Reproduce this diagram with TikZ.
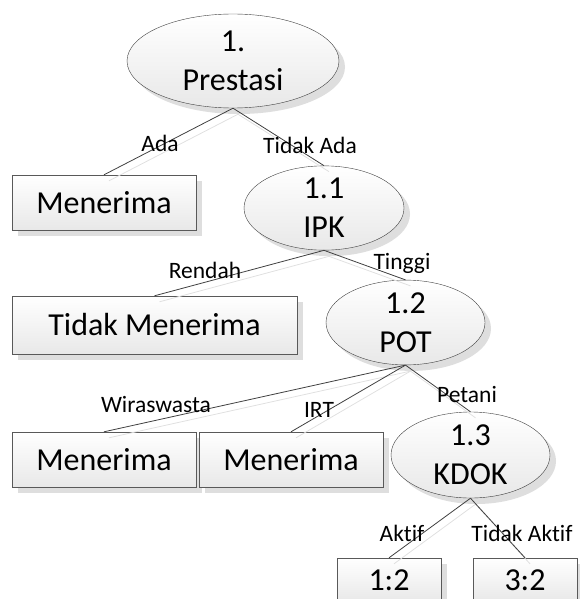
\documentclass[tikz,border=0pt]{standalone}
\usepackage{fontspec}
\setmainfont{Carlito}[Ligatures={NoCommon,NoContextual}, RawFeature={-liga;-clig;-calt}]
\usetikzlibrary{shapes.geometric}
\usetikzlibrary{shadows}

\tikzset{
  sh/.style={drop shadow={shadow xshift=6pt, shadow yshift=-6pt, fill=black!13, opacity=1}},
  box/.style={rectangle, draw=black!65, top color=white, bottom color=black!9, sh,
    inner sep=0pt, font=\fontsize{32}{39}\selectfont},
  oval/.style={ellipse, draw=black!75, top color=white, bottom color=black!9, sh,
    inner sep=0pt, align=center, font=\fontsize{32}{39}\selectfont},
  lbl/.style={inner sep=0pt, font=\fontsize{23.5}{28}\selectfont},
  conn/.style={draw=black!75, line width=0.8pt,
    preaction={draw=black!12, line width=0.8pt, transform canvas={shift={(5pt,-6pt)}}}}
}

\begin{document}
\begin{tikzpicture}[x=1pt, y=-1pt]
      \useasboundingbox (0,0) rectangle (580,599);

      \node[oval, minimum width=212pt, minimum height=94pt] (prestasi) at (233,61) {1.\\Prestasi};
      \node[box, minimum width=184pt, minimum height=55pt] (terima1) at (104,202.5) {Menerima};
      \node[oval, minimum width=160pt, minimum height=80pt] (ipk) at (324,208) {1.1\\IPK};
      \node[box, minimum width=285pt, minimum height=58pt] (tolak) at (154.5,325) {Tidak Menerima};
      \node[oval, minimum width=159pt, minimum height=82pt] (pot) at (405.5,322.5) {1.2\\POT};
      \node[box, minimum width=184pt, minimum height=55pt] (terima2) at (104,459.5) {Menerima};
      \node[box, minimum width=184pt, minimum height=55pt] (terima3) at (291,459.5) {Menerima};
      \node[oval, minimum width=159pt, minimum height=86pt] (kdok) at (470.5,455) {1.3\\KDOK};
      \node[box, minimum width=104pt, minimum height=44pt] (aktif) at (389,580) {1:2};
      \node[box, minimum width=104pt, minimum height=44pt] (pasif) at (525,580) {3:2};

      \draw[conn] (prestasi.south) -- (terima1.north);
      \draw[conn] (prestasi.south) -- (ipk.north);
      \draw[conn] (ipk.south) -- (tolak.north);
      \draw[conn] (ipk.south) -- (pot.north);
      \draw[conn] (pot.south) -- (terima2.north);
      \draw[conn] (pot.south) -- (terima3.north);
      \draw[conn] (pot.south) -- (kdok.north);
      \draw[conn] (kdok.south) -- (aktif.north);
      \draw[conn] (kdok.south) -- (pasif.north);

      \node[lbl] (lada) at (160,143.5) {Ada};
      \node[lbl] (ltidakada) at (310,145) {Tidak Ada};
      \node[lbl] (lrendah) at (205,270) {Rendah};
      \node[lbl] (ltinggi) at (402,263) {Tinggi};
      \node[lbl] (lwira) at (156,404) {Wiraswasta};
      \node[lbl] (lirt) at (319,410) {IRT};
      \node[lbl] (lpetani) at (467,394) {Petani};
      \node[lbl] (laktif) at (402,533) {Aktif};
      \node[lbl] (ltidakaktif) at (522,533) {Tidak Aktif};
    \end{tikzpicture}
\end{document}
